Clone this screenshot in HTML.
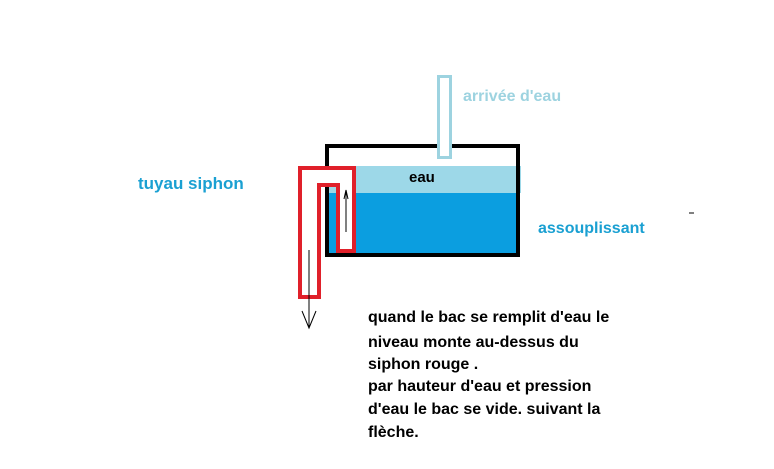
<!DOCTYPE html>
<html><head><meta charset="utf-8"><style>
html,body{margin:0;padding:0;background:#fff;}
svg{display:block;}
text{font-family:"Liberation Sans",sans-serif;font-weight:bold;}
</style></head><body>
<svg width="774" height="469" viewBox="0 0 774 469" xmlns="http://www.w3.org/2000/svg">
<rect x="0" y="0" width="774" height="469" fill="#fff"/>
<rect x="327" y="166" width="194" height="27" fill="#9dd8e8"/>
<rect x="327" y="193" width="191" height="61" fill="#0b9ee0"/>
<rect x="327" y="146" width="191" height="109" fill="none" stroke="#000" stroke-width="4"/>
<rect x="438.5" y="76.5" width="12" height="81" fill="#fff" stroke="#9dd3e0" stroke-width="3"/>
<polygon points="300,168 354,168 354,251 338,251 338,185 319,185 319,297 300,297" fill="#fff" stroke="#e0202a" stroke-width="4"/>
<line x1="346" y1="232" x2="346" y2="192" stroke="#000" stroke-width="1"/>
<polyline points="344,199 346,190 348,199" fill="none" stroke="#000" stroke-width="1"/>
<line x1="309" y1="250" x2="309" y2="328" stroke="#000" stroke-width="1"/>
<polyline points="302,311 309,328 316,311" fill="none" stroke="#000" stroke-width="1"/>
<line x1="689" y1="213" x2="694" y2="213" stroke="#000" stroke-width="1"/>
<text x="463" y="101" font-size="16" fill="#9dd3e0">arrivée d'eau</text>
<text x="138" y="189" font-size="17" fill="#1aa0d2">tuyau siphon</text>
<text x="538" y="233" font-size="16" fill="#1aa0d2">assouplissant</text>
<text x="409" y="182" font-size="15" fill="#000">eau</text>
<g font-size="16" fill="#000">
<text x="368" y="322">quand le bac se remplit d'eau le</text>
<text x="368" y="347">niveau monte au-dessus du</text>
<text x="368" y="369">siphon rouge .</text>
<text x="368" y="391">par hauteur d'eau et pression</text>
<text x="368" y="414">d'eau le bac se vide. suivant la</text>
<text x="368" y="437">flèche.</text>
</g>
</svg>
</body></html>
